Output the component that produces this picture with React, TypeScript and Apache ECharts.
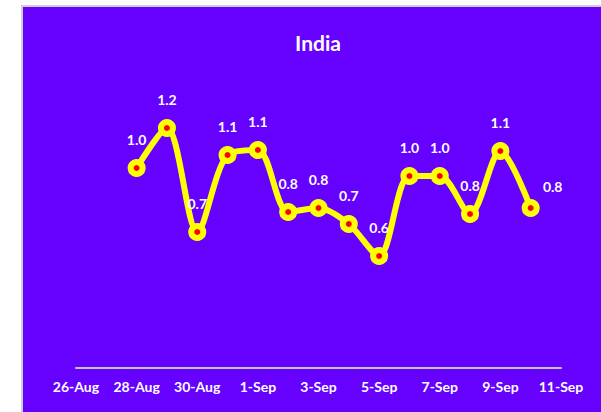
import React, { useEffect, useRef } from "react";
import * as echarts from "echarts";

const categories = [
  "26-Aug", "27-Aug", "28-Aug", "29-Aug", "30-Aug", "31-Aug", "1-Sep", "2-Sep", "3-Sep",
  "4-Sep", "5-Sep", "6-Sep", "7-Sep", "8-Sep", "9-Sep", "10-Sep", "11-Sep",
];
const values: (number | null)[] = [
  null, null, 1.0, 1.2, 0.68, 1.065, 1.09, 0.78, 0.8, 0.72, 0.56, 0.96, 0.96, 0.77, 1.085, 0.8, null,
];
const titleText = "India";

export default function App() {
  const ref = useRef<HTMLDivElement>(null);
  useEffect(() => {
    document.body.style.margin = "0";
    document.body.style.overflow = "hidden";
    const chart = echarts.init(ref.current!, null, { renderer: "svg" });
    const lastIdx = 15;
    const data = values.map((v, i) =>
      v === null
        ? null
        : i === lastIdx
        ? { value: v, label: { offset: [22, 7] } }
        : v
    );
    chart.setOption({
      animation: false,
      backgroundColor: "#6600FF",
      textStyle: { fontFamily: "Lato" },
      graphic: [
        {
          type: "text",
          x: 295,
          y: 35,
          style: {
            text: titleText,
            textAlign: "center",
            textVerticalAlign: "middle",
            fill: "#ffffff",
            font: "bold 21px Lato",
          },
        },
      ],
      grid: { left: 53, right: 40, top: 81, bottom: 44 },
      xAxis: {
        type: "category",
        data: categories,
        boundaryGap: false,
        axisLine: { show: true, lineStyle: { color: "#c4c4c4", width: 2 } },
        axisTick: { show: false },
        axisLabel: {
          interval: 1,
          color: "#ffffff",
          fontSize: 14,
          fontWeight: "bold",
          fontFamily: "Lato",
          margin: 11,
        },
        splitLine: { show: false },
      },
      yAxis: {
        type: "value",
        min: 0,
        max: 1.4,
        show: false,
        splitLine: { show: false },
      },
      series: [
        {
          type: "line",
          data,
          smooth: 0.3,
          symbol: "circle",
          symbolSize: 12,
          showSymbol: true,
          lineStyle: { color: "#FFFF00", width: 6 },
          itemStyle: { color: "#FF0000", borderColor: "#FFFF00", borderWidth: 6 },
          label: {
            show: true,
            position: "top",
            distance: 13,
            color: "#ffffff",
            fontSize: 14,
            fontWeight: "bold",
            fontFamily: "Lato",
            formatter: (p: any) => Number(p.value).toFixed(1),
          },
        },
      ],
    });
    return () => chart.dispose();
  }, []);
  return (
    <div style={{ position: "fixed", left: 0, top: 0, width: 601, height: 412, background: "#ffffff" }}>
      <div
        style={{
          position: "absolute",
          left: 21,
          top: 5,
          width: 578,
          height: 405,
          borderLeft: "2px solid #d0d0d0",
          borderTop: "2px solid #d0d0d0",
        }}
      >
        <div ref={ref} style={{ width: 578, height: 405 }} />
      </div>
    </div>
  );
}
